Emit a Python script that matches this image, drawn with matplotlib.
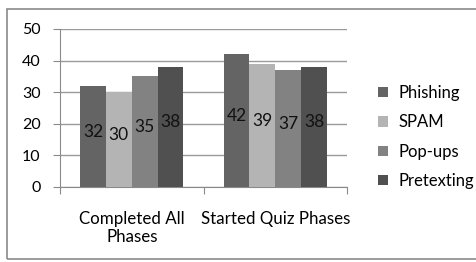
import numpy as np
import matplotlib.pyplot as plt
from matplotlib.patches import Rectangle

plt.rcParams['font.family'] = ['Lato', 'DejaVu Sans']

groups = ['Completed All\nPhases', 'Started Quiz Phases']
series = ['Phishing', 'SPAM', 'Pop-ups', 'Pretexting']
values = [
    [32, 42],  # Phishing
    [30, 39],  # SPAM
    [35, 37],  # Pop-ups
    [38, 38],  # Pretexting
]
colors = ['#646464', '#b4b4b4', '#828282', '#505050']

fig = plt.figure(figsize=(4.76, 2.62), dpi=100)
ax = fig.add_axes([60 / 476, 1 - 187 / 262, 287 / 476, 158 / 262])

# outer chart frame (right side runs off the image)
fig.patches.append(Rectangle((7 / 476, 1 - 259 / 262), 1.2, 250 / 262,
                             transform=fig.transFigure, fill=False,
                             edgecolor='#8a8a8a', linewidth=1.2))

x = np.arange(len(groups))
w = 0.18
for i, (name, vals) in enumerate(zip(series, values)):
    pos = x + (i - 1.5) * w
    bars = ax.bar(pos, vals, width=w, color=colors[i], label=name, zorder=3)
    for b, v in zip(bars, vals):
        ax.text(b.get_x() + b.get_width() / 2, v / 2 + 1.5, str(v),
                ha='center', va='center', fontsize=12.5, color='#111111', zorder=4)

ax.set_xlim(-0.5, 1.5)
ax.set_ylim(0, 50)
ax.set_yticks(range(0, 51, 10))
ax.grid(axis='y', color='#9a9a9a', linewidth=1, zorder=0)
for s in ['top', 'right']:
    ax.spines[s].set_visible(False)
for s in ['left', 'bottom']:
    ax.spines[s].set_color('#8a8a8a')
ax.tick_params(axis='y', length=5, color='#8a8a8a', labelsize=11.5, pad=9)
ax.set_xticks([-0.5, 0.5, 1.5])
ax.set_xticklabels([])
ax.tick_params(axis='x', length=5, color='#8a8a8a')
ax.set_xticks(x, minor=True)
ax.set_xticklabels(groups, minor=True, fontsize=12.2)
ax.tick_params(axis='x', which='minor', length=0, pad=17)

fig.legend(loc='center left', bbox_to_anchor=(370 / 476, 1 - 137 / 262),
           frameon=False, fontsize=12, handlelength=0.6, handleheight=0.6,
           handletextpad=0.6, labelspacing=0.8, borderpad=0)

plt.savefig('out.png', dpi=100)
plt.close()
